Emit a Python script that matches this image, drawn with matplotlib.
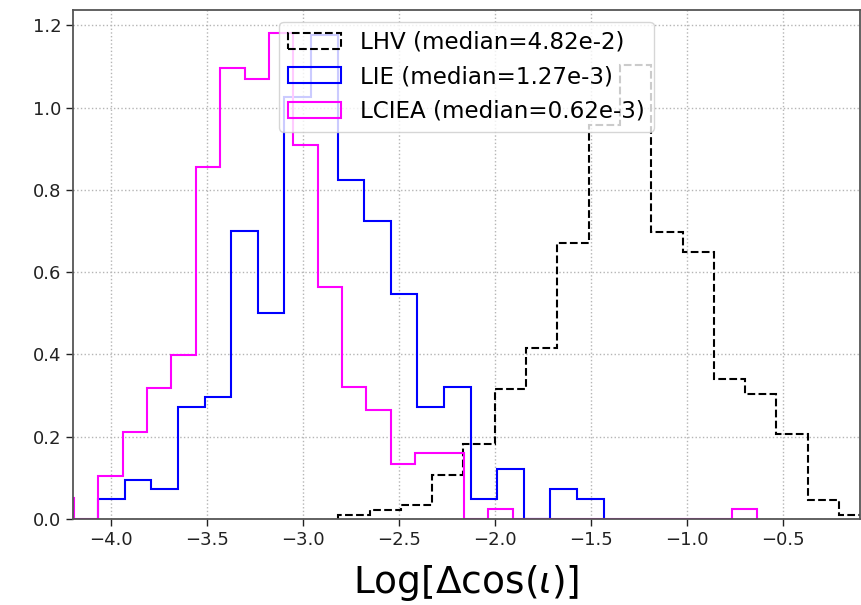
import numpy as np
import matplotlib
matplotlib.use("Agg")
import matplotlib.pyplot as plt

# ---- data ----
lhv_start, lhv_width = -2.818, 0.1631
lhv_vals = [0.0097, 0.022, 0.034, 0.107, 0.182, 0.316, 0.415, 0.671, 0.957,
            1.103, 0.697, 0.648, 0.340, 0.304, 0.207, 0.046, 0.009]

lie_start, lie_width = -4.069, 0.1386
lie_vals = [0.048, 0.096, 0.072, 0.273, 0.297, 0.701, 0.500, 1.026, 1.176,
            0.824, 0.725, 0.548, 0.273, 0.321, 0.048, 0.121, 0.0, 0.072, 0.048]

lciea_start, lciea_width = -4.323, 0.1271
lciea_vals = [0.050, 0.0, 0.105, 0.212, 0.319, 0.399, 0.856, 1.097, 1.070,
              1.180, 0.910, 0.563, 0.321, 0.265, 0.133, 0.160, 0.160, 0.0,
              0.024, 0, 0, 0, 0, 0, 0, 0, 0, 0, 0.024]

labels = ["LHV (median=4.82e-2)", "LIE (median=1.27e-3)", "LCIEA (median=0.62e-3)"]
xticks = [-4.0, -3.5, -3.0, -2.5, -2.0, -1.5, -1.0, -0.5]
yticks = [0.0, 0.2, 0.4, 0.6, 0.8, 1.0, 1.2]


def edges_of(start, width, vals):
    return start + width * np.arange(len(vals) + 1)


fig = plt.figure(figsize=(8.62, 6.05), dpi=100)
ax = fig.add_axes([0.0847, 0.1421, 0.913, 0.8413])

series = [
    (lhv_start, lhv_width, lhv_vals, dict(color="black", linestyle="--")),
    (lie_start, lie_width, lie_vals, dict(color="blue", linestyle="-")),
    (lciea_start, lciea_width, lciea_vals, dict(color="magenta", linestyle="-")),
]
for (start, width, vals, style), lab in zip(series, labels):
    e = edges_of(start, width, vals)
    centers = 0.5 * (e[:-1] + e[1:])
    ax.hist(centers, bins=e, weights=vals, histtype="step", linewidth=1.5,
            label=lab, **style)

ax.set_xlim(-4.2, -0.099)
ax.set_ylim(0, 1.237)
ax.set_xticks(xticks)
ax.set_yticks(yticks)
ax.tick_params(labelsize=13, direction="out", length=5, width=1, colors="#222222")
ax.grid(True, linestyle=":", color="#b5b5b5", linewidth=1)
for s in ax.spines.values():
    s.set_color("#555555")
    s.set_linewidth(1.3)

ax.set_xlabel(r"Log[$\Delta$cos($\iota$)]", fontsize=27, labelpad=10)
ax.legend(loc="upper center", fontsize=16.6, handlelength=2.3)

fig.savefig("out.png", dpi=100)
